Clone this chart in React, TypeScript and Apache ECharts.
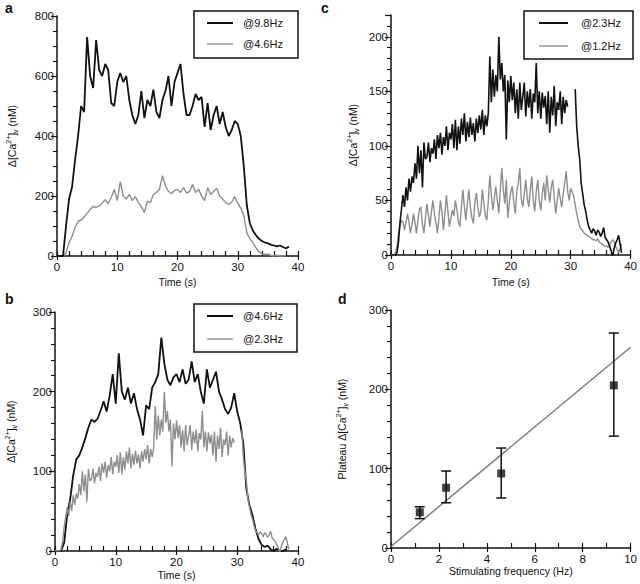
import React, { useEffect, useRef } from "react";
import * as echarts from "echarts";

const FONT = "'Liberation Sans', Arial, Helvetica, sans-serif";
const INK = "#111";
const GRAY = "#8e8e8e";

// sample spacing (s) of the digitised recordings
const STEP_COARSE = 0.5;
const STEP_FINE = 0.25;

// Δ[Ca2+]v (nM) @9.8Hz, every 0.5 s from 0 s
const hz98 = [0, 0, 0, 100, 190, 230, 320, 400, 500, 480, 730, 600, 560, 720, 620, 600, 640, 620, 510, 500,
  580, 610, 580, 600, 520, 470, 440, 470, 550, 460, 520, 500, 555, 480, 460, 520, 550, 600, 500, 580,
  610, 640, 540, 470, 470, 500, 540, 520, 530, 430, 510, 420, 470, 500, 440, 480, 430, 400, 420, 450,
  440, 400, 300, 170, 110, 85, 70, 58, 50, 45, 42, 38, 35, 32, 35, 30, 25, 32];

// @4.6Hz, every 0.5 s from 0 s
const hz46 = [0, 0, 0, 10, 45, 65, 95, 115, 120, 130, 142, 155, 165, 162, 166, 176, 188, 175, 195, 222,
  185, 248, 200, 190, 205, 185, 198, 178, 165, 145, 183, 178, 205, 212, 222, 268, 235, 215, 208, 218,
  222, 212, 228, 210, 215, 238, 212, 222, 200, 185, 228, 205, 215, 225, 200, 190, 178, 172, 180, 198,
  175, 160, 135, 78, 58, 45, 28, 15, 8, 5, 7, 2, 0, 3, 0, 0, 2];

// @2.3Hz, every 0.25 s from 0 s
const hz23 = [
  0, 0, 0, 0, 2, 12, 30, 42, 55, 44, 62, 50, 70, 58, 72, 66, 84, 70, 100, 75,
  96, 62, 103, 88, 90, 103, 85, 98, 93, 106, 88, 110, 98, 112, 92, 108, 100, 118, 96, 112,
  106, 120, 98, 124, 96, 118, 102, 125, 110, 130, 104, 122, 108, 126, 110, 121, 104, 125, 112, 128,
  115, 133, 110, 128, 118, 130, 182, 140, 170, 145, 165, 150, 200, 161, 176, 150, 165, 106, 160, 140,
  164, 142, 158, 130, 152, 125, 158, 133, 145, 158, 127, 150, 135, 152, 125, 148, 140, 176, 130, 150,
  125, 149, 135, 146, 120, 150, 112, 145, 128, 155, 118, 140, 133, 150, 120, 145, 130, 142, 136, null,
  null, null, null, 152, 118, 100, 88, 66, 56, 46, 40, 32, 26, 23, 20, 24, 22, 18, 23, 21,
  17, 20, 25, 16, 14, 12, 8, 4, -2, 6, 11, 14, 18, 10, 2, null];

// @1.2Hz, every 0.25 s from 0 s
const hz12 = [
  0, 0, 0, 2, 8, 20, 26, 32, 30, 23, 30, 38, 30, 20, 28, 38, 30, 20, 32, 42,
  44, 28, 20, 34, 47, 36, 26, 40, 50, 38, 30, 20, 34, 50, 40, 23, 38, 55, 40, 26,
  34, 41, 36, 50, 42, 30, 26, 44, 60, 44, 32, 48, 60, 44, 34, 29, 48, 57, 44, 35,
  40, 60, 48, 36, 32, 50, 73, 55, 41, 52, 63, 50, 38, 60, 80, 60, 47, 69, 34, 48,
  58, 63, 48, 38, 58, 66, 80, 52, 44, 56, 69, 52, 44, 60, 72, 50, 40, 58, 69, 50,
  41, 56, 66, 50, 73, 60, 48, 62, 69, 52, 38, 50, 61, 52, 44, 56, 66, 77, 58, 50,
  61, 58, 54, 46, 38, 32, 26, 24, 22, 20, 19, 18, 17, 16, 15, 14, 14, 13, 15, 12,
  11, 10, 9, 8, 8, 7, 9, 12, 14, 12, 8, 5, 2, 6, 10, null];

// panel d
const freqs = [1.2, 2.3, 4.6, 9.3];
const plateau = [45, 76, 94, 205];
const errLow = [37, 57, 63, 141];
const errHigh = [52, 97, 126, 271];
const fitX = [0, 10];
const fitY = [2, 253];

const legendA = ["@9.8Hz", "@4.6Hz"];
const legendB = ["@4.6Hz", "@2.3Hz"];
const legendC = ["@2.3Hz", "@1.2Hz"];

const toPairs = (vals: (number | null)[], step: number) => vals.map((v, i) => [i * step, v]);

const richName = {
  t: { fontSize: 10.5, fontFamily: FONT, color: INK, lineHeight: 14 },
  sup: { fontSize: 7, fontFamily: FONT, color: INK, verticalAlign: "top" },
  sub: { fontSize: 7, fontFamily: FONT, color: INK, verticalAlign: "bottom" },
};
const yName = (prefix: string) => `{t|${prefix}Δ[Ca}{sup|2+}{t|]}{sub|v}{t| (nM)}`;

function mainX(grid: number, max: number, interval: number, name: string, nameGap: number) {
  return {
    type: "value", gridIndex: grid, min: 0, max, interval, position: "bottom",
    name, nameLocation: "middle", nameGap,
    nameTextStyle: { color: INK, fontFamily: FONT, fontSize: 10.5, verticalAlign: "top" },
    axisLine: { show: true, onZero: false, lineStyle: { color: INK, width: 1.5 } },
    axisTick: { show: true, length: 4, lineStyle: { color: INK, width: 1.2 } },
    axisLabel: { color: INK, fontSize: 11.5, fontFamily: FONT, margin: 5 },
    splitLine: { show: false },
  };
}
function innerX(grid: number, max: number, interval: number) {
  return {
    type: "value", gridIndex: grid, min: 0, max, interval, position: "bottom",
    axisLine: { show: false, onZero: false },
    axisTick: { show: true, inside: true, length: 5, lineStyle: { color: INK, width: 1.2 } },
    axisLabel: { show: false },
    splitLine: { show: false },
  };
}
function mainY(grid: number, max: number, interval: number, minorSplit: number, prefix: string, nameGap: number) {
  return {
    type: "value", gridIndex: grid, min: 0, max, interval,
    name: yName(prefix), nameLocation: "middle", nameGap, nameRotate: 90,
    nameTextStyle: { color: INK, fontFamily: FONT, fontSize: 10.5, rich: richName },
    axisLine: { show: true, onZero: false, lineStyle: { color: INK, width: 1.5 } },
    axisTick: { show: true, length: 6, lineStyle: { color: INK, width: 1.2 } },
    minorTick: { show: true, splitNumber: minorSplit, length: 4, lineStyle: { color: INK, width: 1.1 } },
    axisLabel: { color: INK, fontSize: 11.5, fontFamily: FONT, margin: 3, showMaxLabel: max % interval === 0 },
    splitLine: { show: false },
    minorSplitLine: { show: false },
  };
}

function line(x: number, y: number, data: any[], color: string, width: number, z: number) {
  return {
    type: "line", xAxisIndex: x, yAxisIndex: y, data, showSymbol: false, symbol: "none",
    connectNulls: false, lineStyle: { color, width }, z, silent: true,
  };
}

function legendBox(x: number, y: number, w: number, h: number, lx1: number, lx2: number, tx: number, rows: number[], labels: string[]) {
  const els: any[] = [
    { type: "rect", shape: { x, y, width: w, height: h }, style: { fill: "#fff", stroke: INK, lineWidth: 1.5 }, z: 10 },
  ];
  labels.forEach((lab, i) => {
    els.push({ type: "line", shape: { x1: lx1, y1: rows[i], x2: lx2, y2: rows[i] },
      style: { stroke: i === 0 ? INK : GRAY, lineWidth: i === 0 ? 2 : 1.4 }, z: 11 });
    els.push({ type: "text", x: tx, y: rows[i],
      style: { text: lab, fill: INK, fontSize: 11, fontFamily: FONT, verticalAlign: "middle", align: "left" }, z: 11 });
  });
  return els;
}

function panelLetter(t: string, x: number, y: number) {
  return { type: "text", x, y, style: { text: t, fill: INK, fontSize: 14, fontWeight: "bold", fontFamily: FONT } };
}

export default function App() {
  const ref = useRef<HTMLDivElement>(null);
  useEffect(() => {
    if (!ref.current) return;
    const chart = echarts.init(ref.current, undefined, { renderer: "svg" });
    const option: any = {
      animation: false,
      backgroundColor: "#fff",
      grid: [
        { left: 57, top: 16, width: 241, height: 240 },
        { left: 391, top: 15, width: 242, height: 240 },
        { left: 55, top: 312, width: 243, height: 239 },
        { left: 391, top: 310, width: 242, height: 238 },
      ],
      xAxis: [
        mainX(0, 40, 10, "Time (s)", 20), innerX(0, 40, 2),
        mainX(1, 40, 10, "Time (s)", 21), innerX(1, 40, 2),
        mainX(2, 40, 10, "Time (s)", 18), innerX(2, 40, 2),
        mainX(3, 10, 2, "Stimulating frequency (Hz)", 13), innerX(3, 10, 1),
      ],
      yAxis: [
        mainY(0, 800, 200, 4, "", 38),
        mainY(1, 220, 50, 5, "", 31),
        mainY(2, 300, 100, 5, "", 37),
        mainY(3, 300, 100, 5, "Plateau ", 42),
      ],
      series: [
        line(0, 0, toPairs(hz46, STEP_COARSE), GRAY, 1.4, 2),
        line(0, 0, toPairs(hz98, STEP_COARSE), INK, 1.8, 3),
        line(2, 1, toPairs(hz12, STEP_FINE), GRAY, 1.4, 2),
        line(2, 1, toPairs(hz23, STEP_FINE), INK, 1.6, 3),
        line(4, 2, toPairs(hz46, STEP_COARSE), INK, 1.8, 2),
        line(4, 2, toPairs(hz23, STEP_FINE), GRAY, 1.4, 3),
        {
          type: "line", xAxisIndex: 6, yAxisIndex: 3, data: fitX.map((x, i) => [x, fitY[i]]),
          showSymbol: false, symbol: "none", lineStyle: { color: "#7a7a7a", width: 1.4 }, z: 2, silent: true,
        },
        {
          type: "custom", xAxisIndex: 6, yAxisIndex: 3, z: 4, silent: true,
          data: freqs.map((f, i) => [f, errLow[i], errHigh[i]]),
          encode: { x: 0, y: [1, 2] },
          renderItem: (_p: any, api: any) => {
            const x = api.value(0);
            const lo = api.coord([x, api.value(1)]);
            const hi = api.coord([x, api.value(2)]);
            const hw = 5;
            const st = { stroke: INK, lineWidth: 1.5 };
            return {
              type: "group",
              children: [
                { type: "line", shape: { x1: lo[0], y1: lo[1], x2: hi[0], y2: hi[1] }, style: st },
                { type: "line", shape: { x1: lo[0] - hw, y1: lo[1], x2: lo[0] + hw, y2: lo[1] }, style: st },
                { type: "line", shape: { x1: hi[0] - hw, y1: hi[1], x2: hi[0] + hw, y2: hi[1] }, style: st },
              ],
            };
          },
        },
        {
          type: "scatter", xAxisIndex: 6, yAxisIndex: 3, symbol: "rect", symbolSize: 8, z: 5, silent: true,
          itemStyle: { color: INK }, data: freqs.map((f, i) => [f, plateau[i]]),
        },
      ],
      graphic: [
        panelLetter("a", 5, 1),
        panelLetter("c", 321, 1),
        panelLetter("b", 5, 292),
        panelLetter("d", 338, 292),
        ...legendBox(194, 11, 104, 47, 207, 233, 243, [23, 44], legendA),
        ...legendBox(524, 11, 109, 48, 539, 568, 581, [23, 46], legendC),
        ...legendBox(194, 304, 103, 48, 207, 233, 243, [316, 339], legendB),
      ],
    };
    chart.setOption(option);
    return () => chart.dispose();
  }, []);
  return (
    <div
      ref={ref}
      style={{ position: "fixed", left: 0, top: 0, width: 640, height: 584, background: "#fff" }}
    />
  );
}
